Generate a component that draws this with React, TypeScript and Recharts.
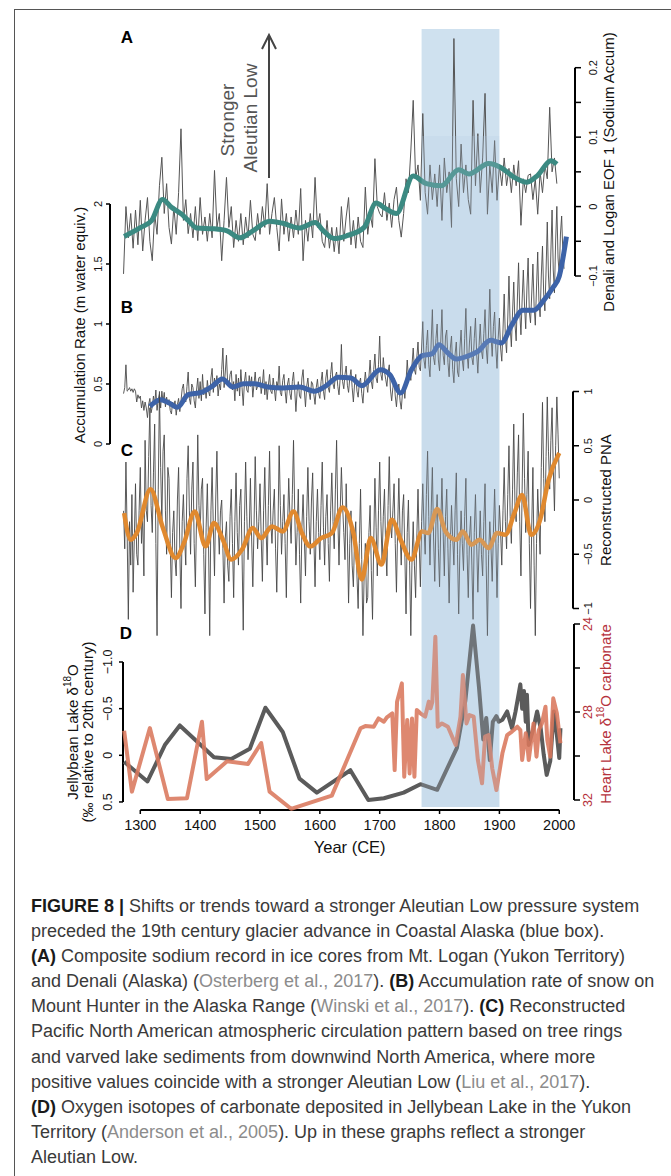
import React from "react";
import { LineChart, Line, XAxis, YAxis, ReferenceLine, ReferenceArea } from "recharts";

const W = 671;
const H = 860;
const FONT = '"Liberation Sans", Arial, Helvetica, sans-serif';

// shared time scale for every panel: x pixel of the 1300 tick, pixels per year
const X1300 = 140.3;
const PXY = 0.5985;
const yearAt = (px: number) => 1300 + (px - X1300) / PXY;

const boxYears = [1770, 1900];
const yearTicks = [1300, 1400, 1500, 1600, 1700, 1800, 1900, 2000];

// (A) Denali and Logan EOF 1, read every 4 yr from 1272
const eofStart = 1272;
const eofStep = 4;
const eofRaw = [
  -0.097, 0.0, -0.045, -0.01, -0.06, -0.005, -0.055, 0.009, -0.064, -0.02,
  0.013, -0.05, -0.078, -0.01, -0.04, 0.03, 0.071, -0.01, 0.033, -0.03,
  -0.054, 0.0, -0.04, 0.02, 0.112, -0.02, 0.01, -0.039, -0.01, -0.045,
  0.0, -0.049, 0.013, -0.04, -0.015, -0.05, -0.01, -0.045, 0.052, -0.03,
  -0.01, -0.078, -0.02, 0.042, -0.03, 0.0, -0.059, -0.02, -0.05, -0.01,
  -0.055, -0.015, -0.045, 0.009, -0.04, -0.049, -0.01, -0.04, 0.0, -0.03,
  0.033, -0.04, -0.01, 0.013, -0.03, -0.064, 0.011, -0.04, -0.01, -0.05,
  -0.015, -0.045, -0.005, -0.04, 0.026, -0.078, -0.02, -0.05, -0.01, -0.045,
  0.042, -0.03, -0.01, -0.05, -0.059, -0.02, -0.06, -0.03, -0.065, -0.03,
  -0.068, 0.0, -0.05, -0.015, 0.013, -0.055, -0.02, -0.06, -0.015, -0.05,
  -0.059, 0.028, -0.04, -0.01, -0.03, 0.069, 0.0, -0.01, -0.015, 0.02,
  -0.02, 0.005, -0.03, 0.01, 0.028, -0.02, -0.044, -0.01, 0.04, 0.02,
  0.08, 0.153, 0.04, 0.06, 0.009, 0.134, 0.02, -0.011, 0.06, 0.01,
  0.047, 0.0, 0.06, -0.02, 0.07, 0.02, 0.05, -0.03, 0.242, 0.04,
  0.0, 0.09, 0.02, 0.06, 0.01, -0.011, 0.153, 0.03, 0.105, 0.02,
  0.07, 0.163, -0.011, 0.06, 0.02, 0.095, 0.009, 0.06, 0.03, 0.07,
  0.03, 0.055, 0.02, 0.06, 0.03, 0.066, -0.027, 0.04, 0.02, 0.045,
  0.047, 0.01, 0.04, -0.011, 0.05, 0.02, 0.06, 0.04, 0.143, 0.05,
  0.07, 0.033,
];
const eofSmoothYears = [
  1273, 1301, 1319, 1337, 1352, 1369, 1380, 1395, 1423, 1445, 1466, 1488, 1516, 1538, 1566, 1592, 1606, 1624,
  1645, 1674, 1694, 1710, 1728, 1756, 1778, 1803, 1832, 1849, 1882, 1903, 1925, 1946, 1964, 1986, 1996,
];
const eofSmooth = [
  -0.043, -0.03, -0.02, 0.01, -0.001, -0.011, -0.02, -0.031, -0.032, -0.035, -0.045, -0.035, -0.021, -0.024,
  -0.031, -0.023, -0.035, -0.046, -0.042, -0.03, 0.005, -0.003, -0.01, 0.044, 0.033, 0.03, 0.053, 0.047, 0.062,
  0.056, 0.042, 0.035, 0.045, 0.066, 0.061,
];
const eofTicks = [-0.1, -0.05, 0, 0.05, 0.1, 0.15, 0.2];
const eofTickLabels = ["\u22120.1", "", "0", "", "0.1", "", "0.2"];

// (B) Mount Hunter accumulation rate, every 2 yr from 1272
const accStart = 1272;
const accStep = 2;
const accRaw = [
  0.42, 0.47, 0.66, 0.44, 0.45, 0.47, 0.44, 0.46, 0.43, 0.46,
  0.44, 0.35, 0.41, 0.38, 0.4, 0.3, 0.36, 0.28, 0.35, 0.3,
  0.22, 0.33, 0.38, 0.26, 0.31, 0.4, 0.33, 0.45, 0.28, 0.37,
  0.42, 0.3, 0.44, 0.35, 0.43, 0.31, 0.39, 0.33, 0.37, 0.28,
  0.25, 0.35, 0.31, 0.36, 0.24, 0.33, 0.38, 0.27, 0.36, 0.46,
  0.5, 0.38, 0.35, 0.48, 0.6, 0.38, 0.33, 0.5, 0.47, 0.36,
  0.3, 0.45, 0.55, 0.38, 0.52, 0.36, 0.58, 0.41, 0.47, 0.38,
  0.53, 0.44, 0.4, 0.55, 0.63, 0.43, 0.55, 0.48, 0.57, 0.4,
  0.5, 0.45, 0.62, 0.8, 0.47, 0.6, 0.74, 0.5, 0.48, 0.58,
  0.61, 0.45, 0.52, 0.36, 0.58, 0.44, 0.55, 0.4, 0.62, 0.47,
  0.32, 0.52, 0.6, 0.45, 0.43, 0.57, 0.48, 0.56, 0.39, 0.5,
  0.6, 0.45, 0.48, 0.55, 0.56, 0.42, 0.5, 0.62, 0.41, 0.52,
  0.37, 0.49, 0.58, 0.44, 0.42, 0.55, 0.46, 0.36, 0.52, 0.48,
  0.65, 0.43, 0.4, 0.53, 0.58, 0.44, 0.34, 0.5, 0.55, 0.42,
  0.37, 0.52, 0.6, 0.45, 0.27, 0.44, 0.52, 0.4, 0.38, 0.55,
  0.62, 0.45, 0.31, 0.48, 0.55, 0.43, 0.37, 0.52, 0.5, 0.41,
  0.33, 0.47, 0.54, 0.42, 0.38, 0.52, 0.6, 0.44, 0.37, 0.55,
  0.62, 0.47, 0.43, 0.58, 0.68, 0.5, 0.46, 0.57, 0.6, 0.48,
  0.41, 0.55, 0.83, 0.52, 0.46, 0.58, 0.65, 0.49, 0.43, 0.55,
  0.62, 0.47, 0.35, 0.5, 0.58, 0.44, 0.39, 0.51, 0.55, 0.42,
  0.34, 0.49, 0.6, 0.5, 0.43, 0.56, 0.7, 0.52, 0.46, 0.62,
  0.75, 0.55, 0.51, 0.66, 0.9, 0.58, 0.53, 0.72, 0.6, 0.54,
  0.48, 0.6, 0.66, 0.45, 0.36, 0.47, 0.55, 0.4, 0.31, 0.44,
  0.5, 0.36, 0.29, 0.42, 0.48, 0.38, 0.52, 0.7, 0.55, 0.6,
  0.53, 0.66, 0.8, 0.62, 0.58, 0.72, 0.85, 0.64, 0.61, 0.8,
  1.02, 0.7, 0.63, 0.82, 0.95, 0.66, 0.56, 0.85, 1.12, 0.72,
  0.66, 0.88, 1.0, 0.7, 0.61, 0.85, 1.12, 0.74, 0.66, 0.9,
  0.95, 0.68, 0.56, 0.8, 0.9, 0.62, 0.51, 0.75, 0.85, 0.6,
  0.56, 0.8, 0.95, 0.7, 0.61, 0.88, 1.13, 0.75, 0.63, 0.85,
  0.98, 0.72, 0.66, 0.88, 1.05, 0.75, 0.59, 0.82, 1.0, 0.78,
  0.71, 0.92, 1.12, 0.8, 0.67, 0.95, 1.29, 0.9, 0.73, 0.98,
  1.1, 0.8, 0.63, 0.88, 1.05, 0.8, 0.69, 0.95, 1.25, 0.88,
  0.76, 1.05, 1.4, 0.98, 0.81, 1.1, 1.35, 1.0, 0.86, 1.2,
  1.51, 1.1, 0.91, 1.2, 1.45, 1.15, 0.96, 1.3, 1.55, 1.1,
  1.01, 1.25, 1.5, 1.15, 0.99, 1.3, 1.6, 1.2, 1.06, 1.4,
  1.65, 1.25, 1.11, 1.45, 1.85, 1.4, 1.21, 1.6, 1.95, 1.45,
  1.26, 1.7, 1.98, 1.55, 1.41, 1.75, 1.9, 1.6, 1.46,
];
const accSmoothYears = [
  1316, 1334, 1348, 1362, 1380, 1402, 1420, 1437, 1455, 1473, 1491, 1513, 1538, 1566, 1591, 1609, 1631, 1652,
  1670, 1701, 1717, 1735, 1753, 1771, 1788, 1799, 1814, 1828, 1846, 1864, 1885, 1903, 1921, 1939, 1957, 1975,
  1989, 2000, 2012,
];
const accSmooth = [
  0.314, 0.369, 0.342, 0.306, 0.411, 0.43, 0.48, 0.542, 0.475, 0.503, 0.503, 0.475, 0.467, 0.475, 0.439, 0.48,
  0.556, 0.55, 0.486, 0.619, 0.578, 0.425, 0.619, 0.736, 0.753, 0.828, 0.758, 0.708, 0.731, 0.772, 0.864, 0.842,
  0.994, 1.114, 1.114, 1.203, 1.3, 1.397, 1.728,
];
const accTicks = [0, 0.5, 1, 1.5, 2];
const accTickLabels = ["0", "0.5", "1", "1.5", "2"];

// (C) reconstructed PNA, every 2 yr from 1272
const pnaStart = 1272;
const pnaStep = 2;
const pnaRaw = [
  -0.1, -0.45, 0.35, -0.3, -1.1, -0.2, -0.6, 0.05, -0.85, -0.35,
  0.15, -0.5, -0.6, -0.1, 0.3, -0.4, -0.15, -0.7, 0.55, -0.1,
  -0.2, 0.4, 0.85, -0.05, -0.3, 0.25, 0.7, -0.4, -1.25, 0.1,
  1.0, 0.3, -0.2, 0.45, 0.6, -0.1, -0.5, 0.3, 0.2, -0.4,
  -0.9, -0.3, -0.1, -0.55, -0.7, 0.0, 0.3, -0.45, -1.0, -0.2,
  0.05, -0.35, -0.6, 0.2, 0.5, -0.1, -0.5, 0.1, 0.35, -0.4,
  -0.8, -0.15, 0.6, -0.05, -0.3, 0.1, 0.2, -0.5, -1.05, -0.25,
  0.15, -0.4, -1.25, -0.1, 0.3, -0.25, -0.7, 0.0, 0.45, -0.2,
  -0.5, -0.1, 0.0, -0.45, -0.95, -0.35, -0.2, -0.6, -0.75, -0.15,
  0.1, -0.4, -0.9, -0.2, 0.25, -0.3, -0.6, -0.05, 0.1, -0.5,
  -1.2, -0.2, 0.35, -0.15, -0.55, -0.3, 0.2, -0.35, -0.8, -0.25,
  0.4, -0.1, -0.45, -0.2, 0.15, -0.35, -0.75, -0.1, 0.3, -0.25,
  -0.6, -0.05, 0.45, -0.2, -0.4, -0.1, 0.1, -0.45, -0.85, -0.3,
  0.5, -0.05, -0.5, -0.2, 0.05, -0.4, -0.9, -0.25, 0.2, -0.15,
  -0.4, 0.05, 0.55, -0.1, -0.6, -0.3, 0.1, -0.5, -0.95, -0.25,
  0.05, -0.35, -0.7, -0.15, 0.3, -0.2, -0.5, 0.0, 0.25, -0.35,
  -0.8, -0.2, 0.1, -0.3, -0.55, -0.05, 0.35, -0.25, -0.6, -0.15,
  0.05, -0.4, -0.75, -0.1, 0.25, -0.2, -0.45, 0.1, 0.55, -0.15,
  -0.6, -0.1, 0.3, -0.05, -0.3, -0.55, 0.15, -0.35, -0.95, -0.4,
  -0.1, -0.6, -0.8, -0.35, -0.2, -0.7, -1.0, -0.4, 0.1, -0.55,
  -1.25, -0.7, -0.4, -0.95, -0.9, -0.3, -0.05, -0.65, -1.1, -0.4,
  0.2, -0.25, -0.7, -0.1, 0.35, -0.2, -0.55, -0.15, 0.1, -0.45,
  -0.7, -0.05, 0.4, -0.2, -0.35, -0.1, 0.15, -0.4, -0.85, -0.25,
  0.2, -0.3, -0.6, -0.1, 0.05, -0.5, -1.05, -0.3, 0.0, -0.6,
  -1.25, -0.55, -0.2, -0.6, -0.9, -0.35, 0.1, -0.4, -0.8, -0.2,
  0.15, -0.25, -0.5, 0.05, 0.45, -0.15, -0.6, -0.1, 0.3, -0.35,
  -0.75, -0.2, 0.05, -0.45, -0.8, -0.25, 0.2, -0.3, -0.7, -0.15,
  0.1, -0.45, -0.95, -0.4, -0.05, -0.35, -0.6, -0.1, 0.25, -0.5,
  -1.05, -0.45, -0.1, -0.4, -0.65, -0.15, 0.2, -0.5, -0.9, -0.35,
  -0.15, -0.6, -1.1, -0.3, 0.05, -0.4, -0.85, -0.45, -0.1, -0.5,
  -0.7, -0.2, 0.15, -0.6, -1.25, -0.5, -0.2, -0.45, -0.75, -0.3,
  0.1, -0.35, -0.9, -0.4, -0.05, -0.3, -0.6, -0.1, 0.3, -0.2,
  -0.45, 0.05, 0.5, -0.15, -0.4, 0.1, 0.7, -0.05, -0.2, 0.25,
  0.6, -0.2, -0.7, 0.1, 0.8, 0.2, -0.3, 0.05, 0.45, -0.4,
  -1.0, -0.25, 0.3, -0.6, -1.25, -0.4, 0.1, -0.2, -0.5, 0.3,
  0.9, 0.2, -0.2, 0.4, 0.95, 0.45, 0.1, 0.55, 0.85, 0.3,
  -0.1, 0.5, 0.95, 0.6, 0.2,
];
const pnaSmoothYears = [
  1273, 1284, 1294, 1317, 1337, 1359, 1373, 1391, 1409, 1423, 1438, 1452, 1470, 1488, 1502, 1520, 1538, 1556,
  1570, 1584, 1602, 1620, 1638, 1656, 1670, 1685, 1703, 1720, 1735, 1753, 1771, 1781, 1796, 1810, 1828, 1839,
  1853, 1867, 1882, 1896, 1910, 1925, 1938, 1953, 1968, 1982, 2000,
];
const pnaSmooth = [
  -0.122, -0.366, -0.305, 0.098, -0.244, -0.534, -0.396, -0.107, -0.427, -0.213, -0.366, -0.549, -0.457, -0.259,
  -0.351, -0.244, -0.29, -0.107, -0.305, -0.427, -0.351, -0.305, -0.07, -0.305, -0.732, -0.351, -0.595, -0.183,
  -0.366, -0.549, -0.29, -0.305, -0.082, -0.29, -0.366, -0.29, -0.412, -0.366, -0.442, -0.305, -0.32, -0.122,
  0.046, -0.32, -0.183, 0.183, 0.433,
];
const pnaTicks = [-1, -0.5, 0, 0.5, 1];
const pnaTickLabels = ["\u22121", "\u22120.5", "0", "0.5", "1"];

// (D) Jellybean Lake d18O (left, inverted) and Heart Lake d18O (right, inverted)
const jellyYears = [
  1273, 1312, 1341, 1366, 1423, 1452, 1483, 1509, 1538, 1566, 1595, 1651, 1681, 1707, 1740, 1768, 1796, 1829,
  1843, 1856, 1866, 1873, 1878, 1884, 1889, 1895, 1899, 1905, 1913, 1921, 1927, 1935, 1938, 1941, 1944, 1946,
  1949, 1957, 1963, 1969, 1974, 1979, 1985, 1991, 1996, 2000, 2002,
];
const jelly = [
  0.07, 0.28, -0.11, -0.32, 0.02, 0.04, -0.07, -0.51, -0.25, 0.25, 0.4, 0.16, 0.48, 0.46, 0.4, 0.31, 0.37, -0.08,
  -0.58, -1.39, -0.72, -0.17, -0.4, 0.05, -0.36, -0.42, -0.36, -0.38, -0.47, -0.29, -0.47, -0.76, -0.5, -0.69,
  -0.36, -0.65, -0.11, -0.29, -0.47, -0.29, -0.01, 0.21, 0.06, -0.47, -0.22, 0.03, -0.29,
];
const heartYears = [
  1273, 1286, 1316, 1346, 1378, 1403, 1411, 1445, 1480, 1502, 1516, 1552, 1620, 1668, 1676, 1690, 1698, 1707,
  1712, 1721, 1725, 1729, 1737, 1741, 1746, 1750, 1754, 1758, 1762, 1768, 1776, 1782, 1785, 1788, 1793, 1797,
  1804, 1814, 1827, 1835, 1839, 1845, 1850, 1857, 1864, 1871, 1876, 1882, 1888, 1895, 1905, 1913, 1921, 1924,
  1930, 1935, 1938, 1944, 1946, 1949, 1954, 1957, 1962, 1966, 1971, 1977, 1980, 1985, 1990, 1996, 2002,
];
const heart = [
  28.85, 31.62, 28.73, 31.95, 31.92, 28.44, 31.05, 30.24, 30.36, 29.41, 31.62, 32.4, 31.8, 28.74, 28.64, 28.67,
  28.29, 28.44, 28.24, 28.06, 30.64, 27.53, 26.7, 30.94, 28.36, 30.79, 28.29, 30.94, 27.91, 28.06, 28.21, 27.53,
  27.83, 27.53, 24.58, 28.67, 28.52, 28.67, 29.5, 28.21, 26.32, 28.52, 28.14, 28.21, 30.18, 31.24, 29.12, 29.05,
  30.56, 31.55, 29.88, 29.05, 28.89, 28.82, 28.67, 28.82, 30.18, 28.97, 29.27, 30.18, 29.12, 28.52, 30.03, 28.82,
  28.52, 27.76, 29.27, 30.03, 27.38, 28.06, 29.42,
];
const jellyTicks = [-1, -0.5, 0, 0.5];
const jellyTickLabels = ["\u22121.0", "\u22120.5", "0", "0.5"];
const heartTicks = [24, 26, 28, 30, 32];
const heartTickLabels = ["24", "", "28", "", "32"];

const stepped = (start: number, step: number, vals: number[]) => vals.map((y, i) => ({ x: start + i * step, y }));
const paired = (xs: number[], ys: number[]) => xs.map((x, i) => ({ x, y: ys[i] }));

// ---- pixel layout of each panel's value axis ----
const eofPx = (v: number) => 67.7 + (0.2 - v) * (208.3 / 0.3);
const accPx = (v: number) => 444 - v * 120;
const pnaPx = (v: number) => 500 - v * 108.5;
const jellyPx = (v: number) => 755.3 + v * 93.3;
const D_BOTTOM = 810;
const jellyDomain = [-1.5, (D_BOTTOM - 755.3) / 93.3];
const D_TOP = jellyPx(jellyDomain[0]);
const heartDomain = [24 + (D_TOP - 624) / 22, 24 + (D_BOTTOM - 624) / 22];

const AXW = 60;
const abs: React.CSSProperties = { position: "absolute", left: 0, top: 0 };
const tickStroke = { stroke: "#000", strokeWidth: 1.5 };

const sideTick = (ticks: number[], labels: string[], dx: number, size: number, fill = "#111") => (p: any) => {
  const i = ticks.findIndex((t) => Math.abs(t - p.payload.value) < 1e-9);
  const s = i >= 0 ? labels[i] : "";
  const x = p.x + dx;
  return (
    <text x={x} y={p.y} transform={`rotate(-90 ${x} ${p.y})`} textAnchor="middle" dominantBaseline="central"
      fontSize={size} fill={fill} fontFamily={FONT}>{s}</text>
  );
};

const vTitle = (x: number, y: number, lines: React.ReactNode[], color = "#111") => () => (
  <g transform={`rotate(-90 ${x} ${y})`}>
    {lines.map((ln, i) => (
      <text key={i} x={x} y={y + (i - (lines.length - 1) / 2) * 15} textAnchor="middle" dominantBaseline="central"
        fontSize={15} fill={color} fontFamily={FONT}>{ln}</text>
    ))}
  </g>
);

const d18O = (prefix: string) => (
  <>
    {prefix}δ<tspan dy={-5} fontSize={10}>18</tspan><tspan dy={5}>O</tspan>
  </>
);

function BoxLayer({ y1, y2, fill, opacity }: { y1: number; y2: number; fill: string; opacity: number }) {
  return (
    <div style={abs}>
      <LineChart width={W} height={H} margin={{ top: 0, bottom: 0, left: 110, right: W - 575 }}>
        <XAxis type="number" dataKey="x" domain={[yearAt(110), yearAt(575)]} hide allowDataOverflow />
        <YAxis type="number" domain={[0, H]} reversed hide allowDataOverflow />
        <ReferenceArea x1={boxYears[0]} x2={boxYears[1]} y1={y1} y2={y2} fill={fill} fillOpacity={opacity}
          stroke="none" ifOverflow="visible" />
      </LineChart>
    </div>
  );
}

function PanelA() {
  const x0 = yearAt(110), x1 = yearAt(575);
  const dom = [-0.15, 0.26];
  return (
    <div style={abs}>
      <LineChart width={W} height={H}
        margin={{ top: eofPx(dom[1]), bottom: H - eofPx(dom[0]), left: 110, right: W - 575 - AXW }}>
        <XAxis type="number" dataKey="x" domain={[x0, x1]} hide />
        <YAxis orientation="right" type="number" domain={dom} ticks={eofTicks} interval={0} width={AXW}
          axisLine={false} tickLine={tickStroke} tickSize={6} tick={sideTick(eofTicks, eofTickLabels, 10, 11)}
          label={vTitle(608, 172, ["Denali and Logan EOF 1 (Sodium Accum)"])} />
        <ReferenceLine segment={[{ x: x1, y: -0.1 }, { x: x1, y: 0.2 }]} stroke="#000" strokeWidth={2}
          ifOverflow="visible" />
        <Line data={stepped(eofStart, eofStep, eofRaw)} dataKey="y" stroke="#555" strokeWidth={1} dot={false}
          activeDot={false} isAnimationActive={false} />
        <Line data={paired(eofSmoothYears, eofSmooth)} dataKey="y" type="monotone" stroke="#3b8a82"
          strokeWidth={5} dot={false} activeDot={false} isAnimationActive={false} />
      </LineChart>
    </div>
  );
}

function PanelB() {
  const x0 = yearAt(110), x1 = yearAt(575);
  const dom = [0, 2.15];
  return (
    <div style={abs}>
      <LineChart width={W} height={H}
        margin={{ top: accPx(dom[1]), bottom: H - accPx(dom[0]), left: 110 - AXW, right: W - 575 }}>
        <XAxis type="number" dataKey="x" domain={[x0, x1]} hide />
        <YAxis orientation="left" type="number" domain={dom} ticks={accTicks} interval={0} width={AXW}
          axisLine={false} tickLine={tickStroke} tickSize={4} tick={sideTick(accTicks, accTickLabels, -5.7, 11)}
          label={vTitle(79, 325, ["Accumulation Rate (m water equiv.)"])} />
        <ReferenceLine segment={[{ x: x0, y: 0 }, { x: x0, y: 2 }]} stroke="#000" strokeWidth={2}
          ifOverflow="visible" />
        <Line data={stepped(accStart, accStep, accRaw)} dataKey="y" stroke="#4a4a4a" strokeWidth={0.9} dot={false}
          activeDot={false} isAnimationActive={false} />
        <Line data={paired(accSmoothYears, accSmooth)} dataKey="y" type="monotone" stroke="#3d63a8"
          strokeWidth={5} dot={false} activeDot={false} isAnimationActive={false} />
      </LineChart>
    </div>
  );
}

function PanelC() {
  const x0 = yearAt(110), x1 = yearAt(573);
  const dom = [-1.4, 1.1];
  return (
    <div style={abs}>
      <LineChart width={W} height={H}
        margin={{ top: pnaPx(dom[1]), bottom: H - pnaPx(dom[0]), left: 110, right: W - 573 - AXW }}>
        <XAxis type="number" dataKey="x" domain={[x0, x1]} hide />
        <YAxis orientation="right" type="number" domain={dom} ticks={pnaTicks} interval={0} width={AXW}
          axisLine={false} tickLine={tickStroke} tickSize={6} tick={sideTick(pnaTicks, pnaTickLabels, 7.3, 11)}
          label={vTitle(605, 500, ["Reconstructed PNA"])} />
        <ReferenceLine segment={[{ x: x1, y: -1 }, { x: x1, y: 1 }]} stroke="#000" strokeWidth={2}
          ifOverflow="visible" />
        <Line data={stepped(pnaStart, pnaStep, pnaRaw)} dataKey="y" stroke="#474747" strokeWidth={0.9} dot={false}
          activeDot={false} isAnimationActive={false} />
        <Line data={paired(pnaSmoothYears, pnaSmooth)} dataKey="y" type="monotone" stroke="#e0892f"
          strokeWidth={4.5} dot={false} activeDot={false} isAnimationActive={false} />
      </LineChart>
    </div>
  );
}

function PanelD() {
  const x0 = yearAt(123), x1 = yearAt(574);
  const XH = 40;
  return (
    <div style={abs}>
      <LineChart width={W} height={H}
        margin={{ top: D_TOP, bottom: H - D_BOTTOM - XH, left: 123 - AXW, right: W - 574 - AXW }}>
        <XAxis type="number" dataKey="x" domain={[x0, x1]} ticks={yearTicks} interval={0} height={XH}
          axisLine={false} tickLine={tickStroke} tickSize={4}
          tick={(p: any) => (
            <text x={p.x} y={p.y + 9} textAnchor="middle" dominantBaseline="central" fontSize={14.5}
              fill="#111" fontFamily={FONT}>{p.payload.value}</text>
          )}
          label={() => (
            <text x={349.7} y={847} textAnchor="middle" dominantBaseline="central" fontSize={16.5} fill="#111"
              fontFamily={FONT}>Year (CE)</text>
          )} />
        <YAxis yAxisId="j" orientation="left" type="number" domain={jellyDomain} reversed ticks={jellyTicks}
          interval={0} width={AXW} axisLine={false} tickLine={tickStroke} tickSize={4}
          tick={sideTick(jellyTicks, jellyTickLabels, -8.7, 12.5)}
          label={vTitle(79.5, 732, [d18O("Jellybean Lake "), "(‰ relative to 20th century)"])} />
        <YAxis yAxisId="h" orientation="right" type="number" domain={heartDomain} reversed ticks={heartTicks}
          interval={0} width={AXW} axisLine={false} tickLine={tickStroke} tickSize={6}
          tick={sideTick(heartTicks, heartTickLabels, 6.3, 12.5, "#b5323c")}
          label={vTitle(605, 714, [<>{d18O("Heart Lake ")} carbonate</>], "#b5323c")} />
        <ReferenceLine yAxisId="j" segment={[{ x: yearTicks[0], y: jellyDomain[1] }, { x: 2000, y: jellyDomain[1] }]}
          stroke="#000" strokeWidth={2} ifOverflow="visible" />
        <ReferenceLine yAxisId="j" segment={[{ x: x0, y: -1 }, { x: x0, y: 0.5 }]} stroke="#000" strokeWidth={2}
          ifOverflow="visible" />
        <ReferenceLine yAxisId="h" segment={[{ x: x1, y: 24 }, { x: x1, y: 32 }]} stroke="#000" strokeWidth={2}
          ifOverflow="visible" />
        <Line yAxisId="j" data={paired(jellyYears, jelly)} dataKey="y" stroke="#5b5b5b" strokeWidth={4}
          strokeLinejoin="round" dot={false} activeDot={false} isAnimationActive={false} />
        <Line yAxisId="h" data={paired(heartYears, heart)} dataKey="y" stroke="#d9785c" strokeWidth={4}
          strokeOpacity={0.88} strokeLinejoin="round" dot={false} activeDot={false} isAnimationActive={false} />
      </LineChart>
    </div>
  );
}

const letter = (s: string, x: number, y: number) => (
  <text x={x} y={y} textAnchor="middle" dominantBaseline="central" fontSize={17} fontWeight="bold"
    fill="#000" fontFamily={FONT}>{s}</text>
);

function Annotations() {
  return (
    <svg width={W} height={H} style={abs}>
      {letter("A", 127, 37)}
      {letter("B", 127, 307)}
      {letter("C", 127, 450)}
      {letter("D", 126, 633)}
      <line x1={269} y1={178} x2={269} y2={37} stroke="#444" strokeWidth={2} />
      <polyline points="262,49 269,35 276,49" fill="none" stroke="#444" strokeWidth={2} />
      <text x={227} y={120} transform="rotate(-90 227 120)" textAnchor="middle" dominantBaseline="central"
        fontSize={19} fill="#555" fontFamily={FONT}>Stronger</text>
      <text x={250} y={118} transform="rotate(-90 250 118)" textAnchor="middle" dominantBaseline="central"
        fontSize={19} fill="#555" fontFamily={FONT}>Aleutian Low</text>
    </svg>
  );
}

const B = ({ children }: { children: React.ReactNode }) => <b style={{ color: "#1a1a1a" }}>{children}</b>;
const G = ({ children }: { children: React.ReactNode }) => <span style={{ color: "#8c8c8c" }}>{children}</span>;

const captionLines: React.ReactNode[] = [
  <><B>FIGURE 8 |</B> Shifts or trends toward a stronger Aleutian Low pressure system</>,
  <>preceded the 19th century glacier advance in Coastal Alaska (blue box).</>,
  <><B>(A)</B> Composite sodium record in ice cores from Mt. Logan (Yukon Territory)</>,
  <>and Denali (Alaska) (<G>Osterberg et al., 2017</G>). <B>(B)</B> Accumulation rate of snow on</>,
  <>Mount Hunter in the Alaska Range (<G>Winski et al., 2017</G>). <B>(C)</B> Reconstructed</>,
  <>Pacific North American atmospheric circulation pattern based on tree rings</>,
  <>and varved lake sediments from downwind North America, where more</>,
  <>positive values coincide with a stronger Aleutian Low (<G>Liu et al., 2017</G>).</>,
  <><B>(D)</B> Oxygen isotopes of carbonate deposited in Jellybean Lake in the Yukon</>,
  <>Territory (<G>Anderson et al., 2005</G>). Up in these graphs reflect a stronger</>,
  <>Aleutian Low.</>,
];

export default function App() {
  return (
    <div style={{ position: "absolute", left: 0, top: 0, width: W, height: 1176, background: "#fff",
      overflow: "hidden", fontFamily: FONT }}>
      <div style={{ position: "absolute", left: 14, top: 9, width: 720, height: 1200,
        borderTop: "1.5px solid #555", borderLeft: "1.5px solid #555" }} />
      <BoxLayer y1={29} y2={807} fill="#cfe1ef" opacity={1} />
      <PanelA />
      <PanelB />
      <PanelC />
      <PanelD />
      <BoxLayer y1={136} y2={807} fill="#b4cfe4" opacity={0.22} />
      <Annotations />
      <div style={{ position: "absolute", left: 31, top: 894, color: "#3a3a3a", fontSize: 18,
        lineHeight: "25.1px", whiteSpace: "nowrap" }}>
        {captionLines.map((ln, i) => <div key={i}>{ln}</div>)}
      </div>
    </div>
  );
}
